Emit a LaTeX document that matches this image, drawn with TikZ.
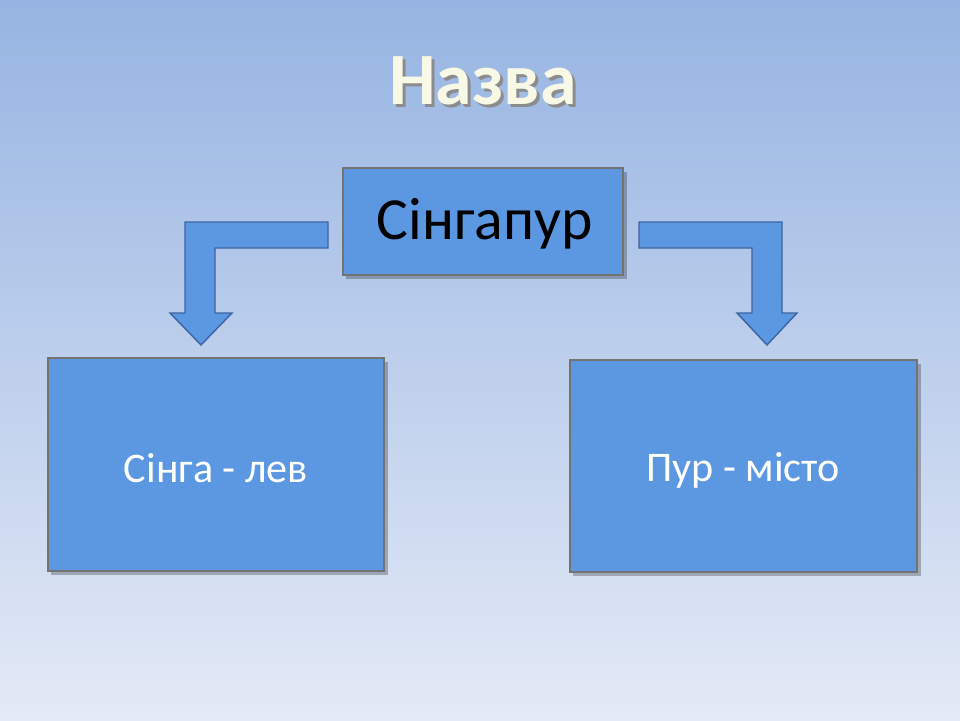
\documentclass[tikz,border=0pt]{standalone}
\usepackage{fontspec}
\setmainfont{Carlito}
\begin{document}
\begin{tikzpicture}[x=0.02cm,y=-0.02cm,
  box/.style={draw=black!55,line width=0.8pt,fill=boxblue},
  shad/.style={fill=black,opacity=0.25},
  arr/.style={draw=arrowline,line width=0.8pt,fill=boxblue}]
\definecolor{boxblue}{RGB}{92,152,226}
\definecolor{arrowline}{RGB}{60,100,160}
\definecolor{bgtop}{RGB}{150,180,226}
\definecolor{bgbot}{RGB}{228,234,246}
\shade[top color=bgtop,bottom color=bgbot] (0,0) rectangle (960,720);
\useasboundingbox (0,0) rectangle (960,720);
% title
\node[text=black!45] at (486,84) {\fontsize{42}{46}\selectfont\bfseries Назва};
\node[text={rgb,255:red,248;green,248;blue,230}] (title) at (483,81) {\fontsize{42}{46}\selectfont\bfseries Назва};
% shadows
\fill[shad] (346,172) rectangle (627,279);
\fill[shad] (51,362) rectangle (388,575);
\fill[shad] (573,364) rectangle (921,576);
% boxes
\draw[box] (343,168) rectangle (623,275);
\node (top) at (485,224) {\fontsize{34}{38}\selectfont Сінгапур};
\draw[box] (48,358) rectangle (384,571);
\node[text=white] (left) at (216,468) {\fontsize{24}{28}\selectfont Сінга - лев};
\draw[box] (570,360) rectangle (917,572);
\node[text=white] (right) at (743,470) {\fontsize{24}{28}\selectfont Пур - місто};
% arrows
\draw[arr] (328,222) -- (185,222) -- (185,313) -- (170,313) -- (201,345) -- (232,313) -- (215,313) -- (215,248) -- (328,248) -- cycle;
\draw[arr] (639,222) -- (782,222) -- (782,313) -- (797,313) -- (767,345) -- (737,313) -- (752,313) -- (752,248) -- (639,248) -- cycle;
\end{tikzpicture}
\end{document}
